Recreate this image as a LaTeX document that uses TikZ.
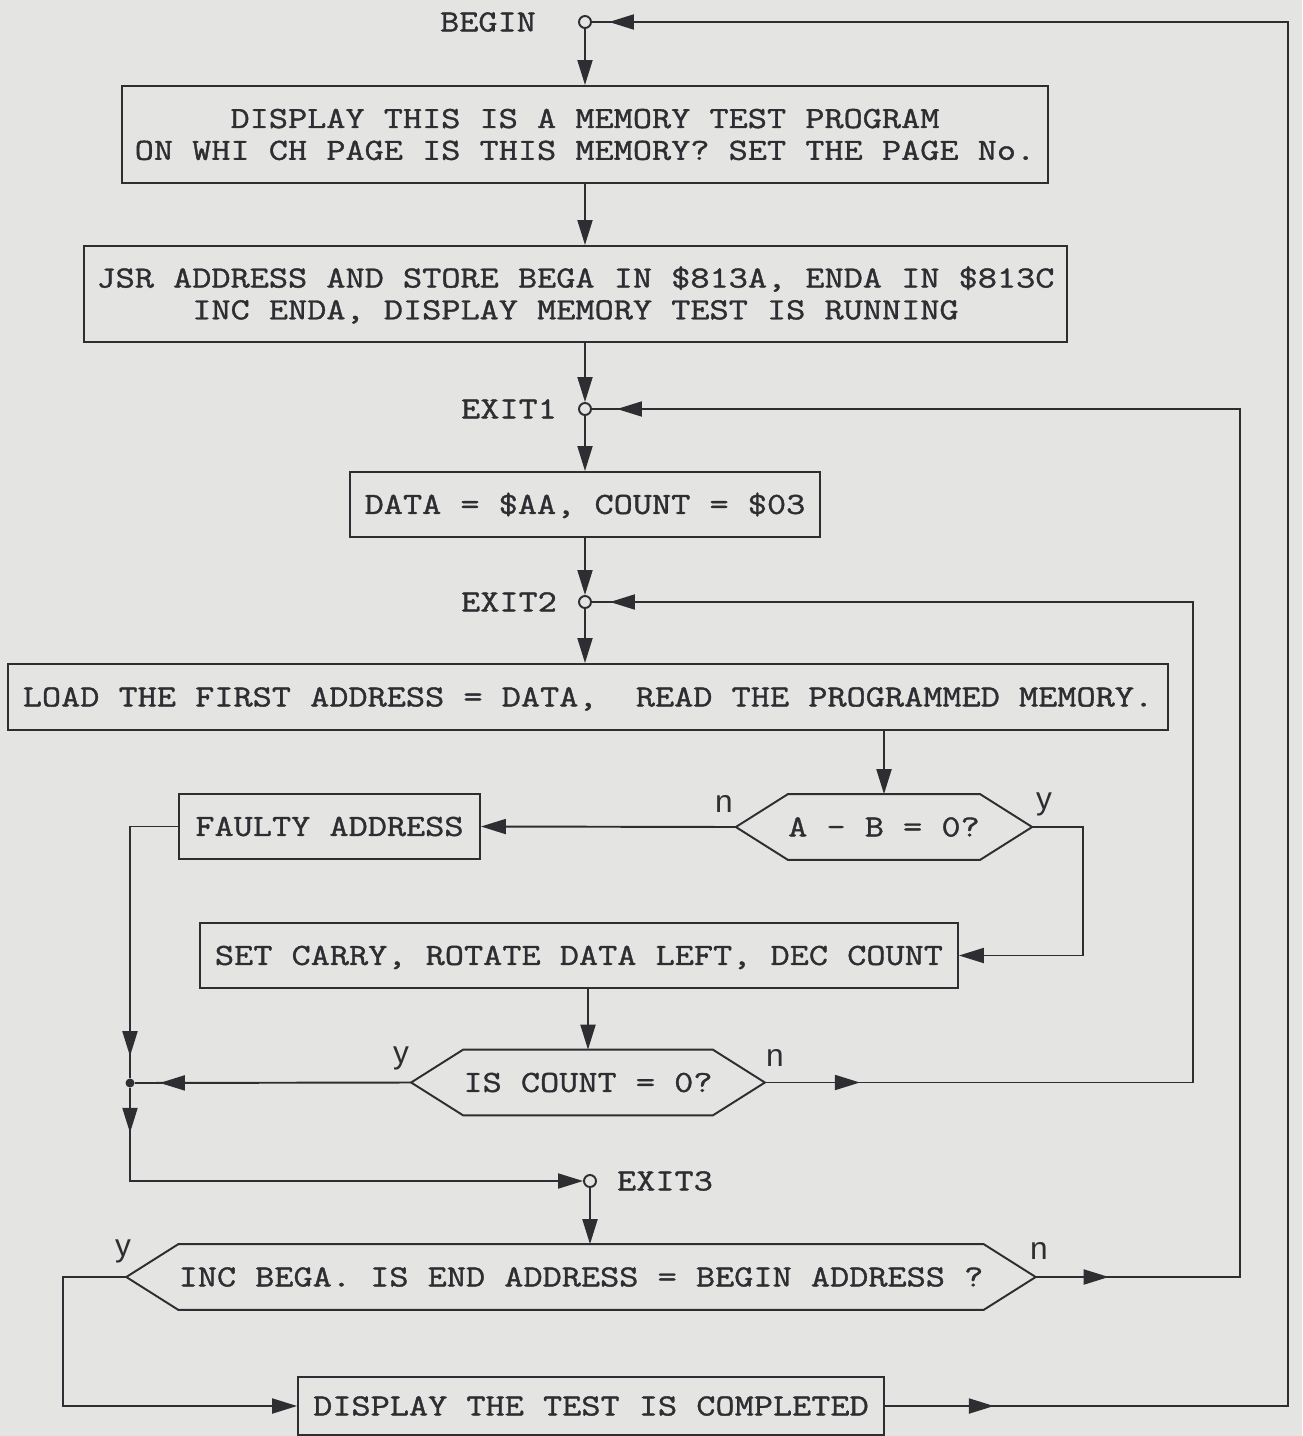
\documentclass[tikz,border=0pt]{standalone}
\usepackage{fontspec}
\newfontfamily\monof{Latin Modern Mono}[FakeStretch=1.21,FakeBold=1.2]
\newfontfamily\sansf{Liberation Sans}
\usetikzlibrary{arrows.meta,decorations.markings,calc}
\definecolor{paper}{RGB}{228,228,226}
\definecolor{ink}{RGB}{45,45,50}
\tikzset{
  tfont/.style={font=\monof\fontsize{17.5}{18.1}\selectfont},
  box/.style={draw=ink, line width=1.1pt, text=ink, tfont, align=center,
    text height=10.7pt, text depth=0pt, inner sep=0pt},
  twoline/.style={text height=28.8pt, text depth=0pt},
  hexin/.style={text=ink, tfont, text height=10.7pt, text depth=0pt,
    inner sep=0pt, minimum height=1.3cm},
  lab/.style={text=ink, tfont, inner sep=0pt, text height=10.7pt, text depth=0pt},
  yn/.style={text=ink, font=\sansf\fontsize{18}{18}\selectfont, inner sep=0pt},
  conn/.style={color=ink, line width=1.1pt},
  toarr/.style={-{Triangle[length=0.5cm,width=0.3cm]}},
  marr/.style={postaction={decorate,decoration={markings,
    mark=at position #1 with {\arrow{Triangle[length=0.5cm,width=0.3cm]}}}}},
  exitc/.style={circle, draw=ink, fill=paper, line width=1.1pt, inner sep=0pt, minimum size=0.24cm},
  jdot/.style={circle, fill=ink, inner sep=0pt, minimum size=0.18cm},
}
\begin{document}
\begin{tikzpicture}[x=0.02cm,y=-0.02cm]
\useasboundingbox (0,0) rectangle (1302,1436);
\fill[paper] (0,0) rectangle (1302,1436);

% connector points (circles)
\node[exitc] (begin) at (585,22) {};
\node[lab] (beginl) at (488,22) {BEGIN};
\node[exitc] (exit1) at (585,409) {};
\node[lab] (exit1l) at (509,409) {EXIT1};
\node[exitc] (exit2) at (585,602) {};
\node[lab] (exit2l) at (509,602) {EXIT2};
\node[exitc] (exit3) at (590,1181) {};
\node[lab] (exit3l) at (665,1181) {EXIT3};
\node[jdot] (junc) at (130,1083) {};

% boxes
\node[box, twoline, minimum width=18.52cm, minimum height=1.94cm] (box1) at (585,134.5)
  {DISPLAY THIS IS A MEMORY TEST PROGRAM\\ON WHI CH PAGE IS THIS MEMORY? SET THE PAGE No.};
\node[box, twoline, minimum width=19.66cm, minimum height=1.92cm] (box2) at (575.5,294)
  {JSR ADDRESS AND STORE BEGA IN \$813A, ENDA IN \$813C\\INC ENDA, DISPLAY MEMORY TEST IS RUNNING};
\node[box, minimum width=9.4cm, minimum height=1.3cm] (box3) at (585,504.5)
  {DATA = \$AA, COUNT = \$03};
\node[box, minimum width=23.2cm, minimum height=1.32cm] (box4) at (588,697)
  {LOAD THE FIRST ADDRESS = DATA,\ \ READ THE PROGRAMMED MEMORY.};
\node[box, minimum width=6.02cm, minimum height=1.3cm] (faulty) at (329.5,826.5)
  {FAULTY ADDRESS};
\node[box, minimum width=15.16cm, minimum height=1.3cm] (box5) at (579,955.5)
  {SET CARRY, ROTATE DATA LEFT, DEC COUNT};
\node[box, minimum width=11.72cm, minimum height=1.16cm] (box6) at (591,1406)
  {DISPLAY THE TEST IS COMPLETED};

% hexagons
\node[hexin, minimum width=3.74cm] (h1) at (884,827) {A - B = 0?};
\node[hexin, minimum width=4.8cm] (h2) at (588,1082.5) {IS COUNT = 0?};
\node[hexin, minimum width=15.96cm] (h3) at (581,1277) {INC BEGA. IS END ADDRESS = BEGIN ADDRESS ?};
\foreach \h in {h1,h2,h3}{
  \coordinate (\h w) at ($(\h.west)+(-52,0)$);
  \coordinate (\h e) at ($(\h.east)+(52,0)$);
  \draw[conn, line join=miter] (\h.north west) -- (\h.north east) -- (\h e) -- (\h.south east)
     -- (\h.south west) -- (\h w) -- cycle;
}

% y / n labels
\node[yn] (h1n) at (724,804) {n};
\node[yn] (h1y) at (1044,804) {y};
\node[yn] (h2y) at (401,1058) {y};
\node[yn] (h2n) at (775,1058) {n};
\node[yn] (h3y) at (123,1251) {y};
\node[yn] (h3n) at (1039,1251) {n};

% corner coordinates
\coordinate (c1) at (1083,955.5);
\coordinate (c2) at (1193,602);
\coordinate (c3) at (1240,409);
\coordinate (c4) at (63,1406);
\coordinate (c5) at (1288,22);

% connectors
\draw[conn, toarr] (begin) -- (begin |- box1.north);
\draw[conn, toarr] (box1.south) -- (box1.south |- box2.north);
\draw[conn, toarr] (exit1 |- box2.south) -- (exit1);
\draw[conn, toarr] (exit1) -- (exit1 |- box3.north);
\draw[conn, toarr] (box3.south) -- (exit2);
\draw[conn, toarr] (exit2) -- (exit2 |- box4.north);
\draw[conn, toarr] (h1.north |- box4.south) -- (h1.north);
\draw[conn, toarr] (h1w) -- (faulty.east);
\draw[conn, toarr] (h1e) -| (c1) -- (box5.east);
\draw[conn, toarr] (box5.south -| h2.north) -- (h2.north);
\draw[conn, marr=-0.44cm] (faulty.west) -| (junc);
\draw[conn, marr=-0.5cm] (h2w) -- (junc);
\draw[conn, toarr, marr=0.9cm] (junc) |- (exit3);
\draw[conn, toarr] (exit3) -- (exit3 |- h3.north);
\draw[conn, marr=1.9cm, marr=-0.36cm] (h2e) -| (c2) -- (exit2);
\draw[conn, marr=1.46cm, marr=-0.5cm] (h3e) -| (c3) -- (exit1);
\draw[conn, toarr] (h3w) -| (c4) -- (box6.west);
\draw[conn, marr=2.18cm, marr=-0.34cm] (box6.east) -| (c5) -- (begin);
\end{tikzpicture}
\end{document}
